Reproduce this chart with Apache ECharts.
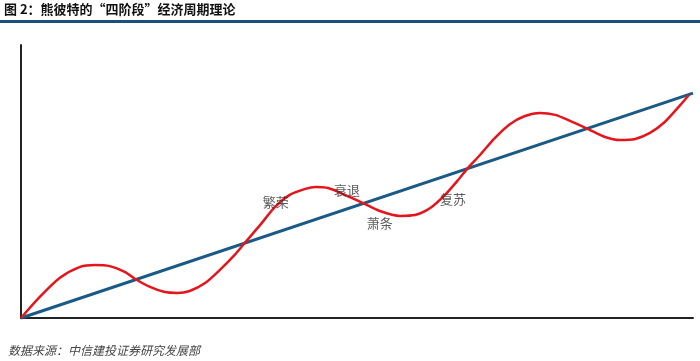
<!DOCTYPE html>
<html><head><meta charset="utf-8">
<script src="https://cdn.jsdelivr.net/npm/echarts@6/dist/echarts.min.js"></script>
<style>html,body{margin:0;padding:0;background:#fff}#c{width:700px;height:361px}</style>
</head><body><div id="c"></div>
<script>
const titleText = '图 2：熊彼特的“四阶段”经济周期理论';
const sourceText = '数据来源：中信建投证券研究发展部';
const trendLine = [[0, 0], [100, 82.4]];
const cycleCurve = [
  [0,0],[2.8,7.7],[5.8,14.7],[8.8,18.7],[11.0,19.4],[13.2,19.0],[15.5,16.8],[17.0,14.3],
  [19.2,11.4],[21.4,9.5],[23.2,9.2],[25.1,9.9],[27.4,12.8],[29.6,17.6],[31.8,23.1],[33.3,27.5],
  [35.6,34.1],[37.8,40.7],[40.0,45.1],[42.3,47.3],[43.8,48.0],[45.7,47.6],[48.2,45.1],[50.9,42.1],
  [53.4,39.2],[56.4,37.4],[58.6,37.7],[60.9,40.3],[63.1,45.1],[65.3,51.3],[66.5,54.9],[68.3,59.7],
  [70.5,65.9],[72.8,71.1],[75.0,74.0],[77.2,75.1],[79.5,74.4],[81.7,72.2],[84.4,69.2],[86.9,66.3],
  [89.1,65.2],[91.4,65.6],[93.6,67.8],[95.8,71.8],[98.0,77.7],[99.4,81.7]
];
const phaseNames = ['繁荣', '衰退', '萧条', '复苏'];
const phasePos = [[37.9, 42.5], [48.5, 46.9], [53.4, 34.8], [64.3, 43.6]];

const chart = echarts.init(document.getElementById('c'), null, {renderer: 'canvas'});
chart.setOption({
  animation: false,
  backgroundColor: '#fff',
  grid: {left: 21, right: 7, top: 45, bottom: 43},
  xAxis: {type: 'value', min: 0, max: 100, axisLine: {show: true, lineStyle: {color: '#222', width: 2}},
    axisTick: {show: false}, axisLabel: {show: false}, splitLine: {show: false}},
  yAxis: {type: 'value', min: 0, max: 100, axisLine: {show: true, lineStyle: {color: '#222', width: 2}},
    axisTick: {show: false}, axisLabel: {show: false}, splitLine: {show: false}},
  graphic: [
    {type: 'text', left: 4, top: 3, style: {text: titleText, font: 'bold 13px "Noto Sans CJK SC", sans-serif', fill: '#111'}},
    {type: 'rect', shape: {x: 0, y: 20, width: 700, height: 3}, style: {fill: '#1d4f7a'}},
    {type: 'text', left: 8, top: 344, style: {text: sourceText, font: 'italic 12px "Noto Sans CJK SC", serif', fill: '#444'}}
  ],
  series: [
    {type: 'line', data: trendLine, symbol: 'none', clip: false, z: 2,
      lineStyle: {color: '#1a5a85', width: 3}},
    {type: 'line', data: cycleCurve, symbol: 'none', smooth: 0.25, z: 3,
      lineStyle: {color: '#e4151b', width: 2.5}},
    {type: 'scatter', symbolSize: 0, z: 4,
      data: phaseNames.map((n, i) => ({name: n, value: phasePos[i]})),
      label: {show: true, position: 'inside', formatter: '{b}', color: '#333',
        fontSize: 13, fontFamily: '"Noto Sans CJK SC", serif'}}
  ]
});
</script></body></html>
